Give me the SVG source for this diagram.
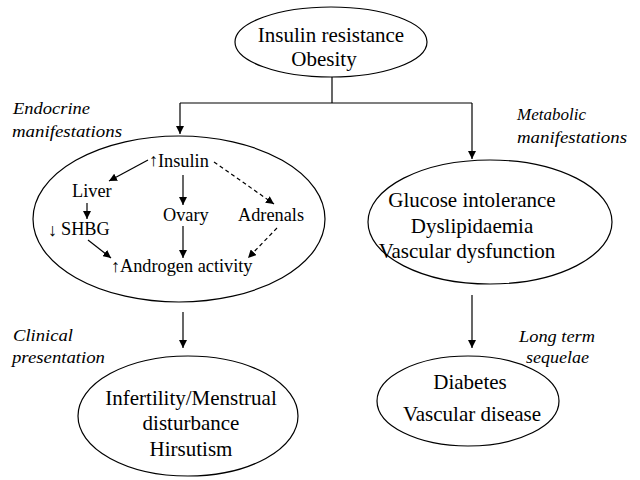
<svg xmlns="http://www.w3.org/2000/svg" width="640" height="480" viewBox="0 0 640 480">
<style>
.n{fill:#fff;stroke:#000;stroke-width:1.2}
.b{font-size:21px;text-anchor:middle}
.m{font-size:18.3px}
.i{font-style:italic;font-size:16px}
.c{fill:none;stroke:#000;stroke-width:1.2}
.d{stroke-dasharray:4 3}
.ar{font-size:18px}
</style>
<defs>
<marker id="ah" viewBox="0 0 10 10" refX="10" refY="5" markerWidth="8" markerHeight="8" markerUnits="userSpaceOnUse" orient="auto">
<path d="M0,0 L10,5 L0,10 z" fill="#000"/>
</marker>
</defs>
<rect width="640" height="480" fill="#fff"/>
<g id="connectors">
<polyline class="c" points="332,77 332,103"/>
<polyline class="c" points="180,103 472,103"/>
<line class="c" x1="180" y1="103" x2="180" y2="134" marker-end="url(#ah)"/>
<line class="c" x1="472" y1="103" x2="472" y2="159" marker-end="url(#ah)"/>
<line class="c" x1="183" y1="312" x2="183" y2="348" marker-end="url(#ah)"/>
<line class="c" x1="472" y1="295" x2="472" y2="348" marker-end="url(#ah)"/>
</g>
<g font-family="Liberation Serif, Times New Roman, serif" fill="#000">
<g id="node-top">
<ellipse class="n" cx="331" cy="42" rx="96" ry="35"/>
<text class="b" x="331" y="42">Insulin resistance</text>
<text class="b" x="324" y="66">Obesity</text>
</g>
<g id="node-endocrine">
<ellipse class="n" cx="179" cy="219" rx="146" ry="83"/>
<g id="inner-connectors">
<line class="c" x1="148" y1="160" x2="109" y2="181" marker-end="url(#ah)"/>
<line class="c" x1="183" y1="175" x2="183" y2="205" marker-end="url(#ah)"/>
<line class="c d" x1="214" y1="162" x2="274" y2="204" marker-end="url(#ah)"/>
<line class="c" x1="87" y1="203" x2="87" y2="219" marker-end="url(#ah)"/>
<line class="c" x1="88" y1="240" x2="111" y2="258" marker-end="url(#ah)"/>
<line class="c" x1="183" y1="226" x2="183" y2="258" marker-end="url(#ah)"/>
<line class="c d" x1="277" y1="228" x2="248" y2="258" marker-end="url(#ah)"/>
</g>
<text class="ar" x="149" y="166">↑</text>
<text class="m" x="158" y="167">Insulin</text>
<text class="m" x="72" y="197">Liver</text>
<text class="ar" x="48" y="236">↓</text>
<text class="m" x="61" y="235">SHBG</text>
<text class="m" x="163" y="221">Ovary</text>
<text class="m" x="238" y="221">Adrenals</text>
<text class="ar" x="111" y="272">↑</text>
<text class="m" x="120" y="272">Androgen activity</text>
</g>
<g id="node-metabolic">
<ellipse class="n" cx="490" cy="222" rx="122" ry="62"/>
<text class="b" x="472" y="207">Glucose intolerance</text>
<text class="b" x="472" y="233">Dyslipidaemia</text>
<text class="b" x="467" y="258">Vascular dysfunction</text>
</g>
<g id="node-clinical">
<ellipse class="n" cx="188" cy="416" rx="110" ry="60"/>
<text class="b" x="191" y="405">Infertility/Menstrual</text>
<text class="b" x="191" y="430">disturbance</text>
<text class="b" x="191" y="456">Hirsutism</text>
</g>
<g id="node-sequelae">
<ellipse class="n" cx="468" cy="401" rx="91" ry="45"/>
<text class="b" x="470" y="389">Diabetes</text>
<text class="b" x="472" y="421">Vascular disease</text>
</g>
<g id="labels">
<text class="i" x="13" y="114" textLength="77" lengthAdjust="spacingAndGlyphs">Endocrine</text>
<text class="i" x="12" y="137" textLength="110" lengthAdjust="spacingAndGlyphs">manifestations</text>
<text class="i" x="517" y="120" textLength="69" lengthAdjust="spacingAndGlyphs">Metabolic</text>
<text class="i" x="517" y="143" textLength="110" lengthAdjust="spacingAndGlyphs">manifestations</text>
<text class="i" x="13" y="341" textLength="60" lengthAdjust="spacingAndGlyphs">Clinical</text>
<text class="i" x="12" y="363" textLength="93" lengthAdjust="spacingAndGlyphs">presentation</text>
<text class="i" x="519" y="342" textLength="76" lengthAdjust="spacingAndGlyphs">Long term</text>
<text class="i" x="526" y="363" textLength="63" lengthAdjust="spacingAndGlyphs">sequelae</text>
</g>
</g>
</svg>
